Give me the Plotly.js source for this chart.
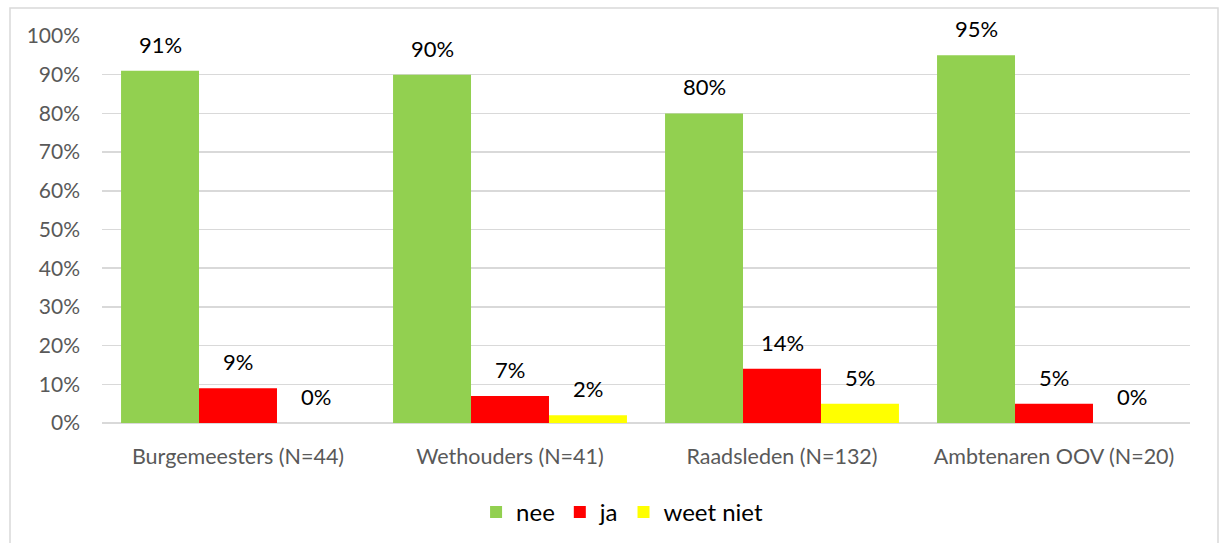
<!DOCTYPE html>
<html>
<head>
<meta charset="utf-8">
<script src="https://cdn.plot.ly/plotly-3.0.1.min.js"></script>
<style>
html,body{margin:0;padding:0;background:#fff;}
#chart{width:1223px;height:543px;}
</style>
</head>
<body>
<div id="chart"></div>
<script>
const categories = ["Burgemeesters (N=44)", "Wethouders (N=41)", "Raadsleden (N=132)", "Ambtenaren OOV (N=20)"];
const seriesNames = ["nee", "ja", "weet niet"];
const nee = [91, 90, 80, 95];
const ja = [9, 7, 14, 5];
const weetNiet = [0, 2, 5, 0];
const yTickVals = [0, 10, 20, 30, 40, 50, 60, 70, 80, 90, 100];
const yTickText = yTickVals.map(v => v + "%");

const colors = ["#92D050", "#FF0000", "#FFFF00"];
const values = [nee, ja, weetNiet];
const FONT = "Lato, 'Open Sans', sans-serif";
const bargap = 0.14;

const traces = values.map((vals, i) => ({
  type: "bar",
  name: seriesNames[i],
  x: categories,
  y: vals,
  marker: {color: colors[i]},
  hoverinfo: "skip"
}));

// value labels as annotations placed over each bar (offset within the group)
const nSeries = values.length;
const barW = (1 - bargap) / nSeries;
const annotations = [];
values.forEach((vals, i) => {
  const off = (i - (nSeries - 1) / 2) * barW;
  vals.forEach((v, j) => {
    annotations.push({
      xref: "x", yref: "y",
      x: j + off, y: v,
      text: v + "%",
      showarrow: false,
      yanchor: "bottom",
      xanchor: "center",
      yshift: 11,
      font: {family: FONT, size: 22, color: "#000"}
    });
  });
});

const layout = {
  width: 1223,
  height: 543,
  margin: {l: 102, r: 33, t: 36, b: 120},
  paper_bgcolor: "#fff",
  plot_bgcolor: "#fff",
  barmode: "group",
  bargap: bargap,
  bargroupgap: 0,
  font: {family: FONT, color: "#595959", size: 21},
  xaxis: {
    type: "category",
    showline: false,
    showgrid: false,
    ticks: "",
    ticklabelstandoff: 18,
    tickfont: {family: FONT, size: 21.5, color: "#595959"},
    automargin: false
  },
  yaxis: {
    range: [0, 100],
    tickvals: yTickVals,
    ticktext: yTickText,
    showgrid: true,
    gridcolor: "#d9d9d9",
    gridwidth: 1.5,
    zeroline: true,
    zerolinecolor: "#d9d9d9",
    zerolinewidth: 1.5,
    showline: false,
    ticks: "",
    ticklabelstandoff: 21,
    tickfont: {family: FONT, size: 21, color: "#595959"},
    automargin: false
  },
  showlegend: true,
  legend: {
    orientation: "h",
    x: 0.478,
    xanchor: "center",
    y: 0.098,
    yanchor: "top",
    yref: "container",
    font: {family: FONT, size: 24, color: "#000"},
    traceorder: "normal",
    itemwidth: 30
  },
  annotations: annotations,
  shapes: [{
    type: "rect",
    xref: "paper", yref: "paper",
    x0: (10 - 102) / 1088, x1: (1218 - 102) / 1088,
    y0: (423 - 560) / 387, y1: (423 - 8) / 387,
    line: {color: "#d9d9d9", width: 1.5},
    fillcolor: "rgba(0,0,0,0)",
    layer: "below"
  }]
};

Plotly.newPlot("chart", traces, layout, {displayModeBar: false, staticPlot: true});
</script>
</body>
</html>
